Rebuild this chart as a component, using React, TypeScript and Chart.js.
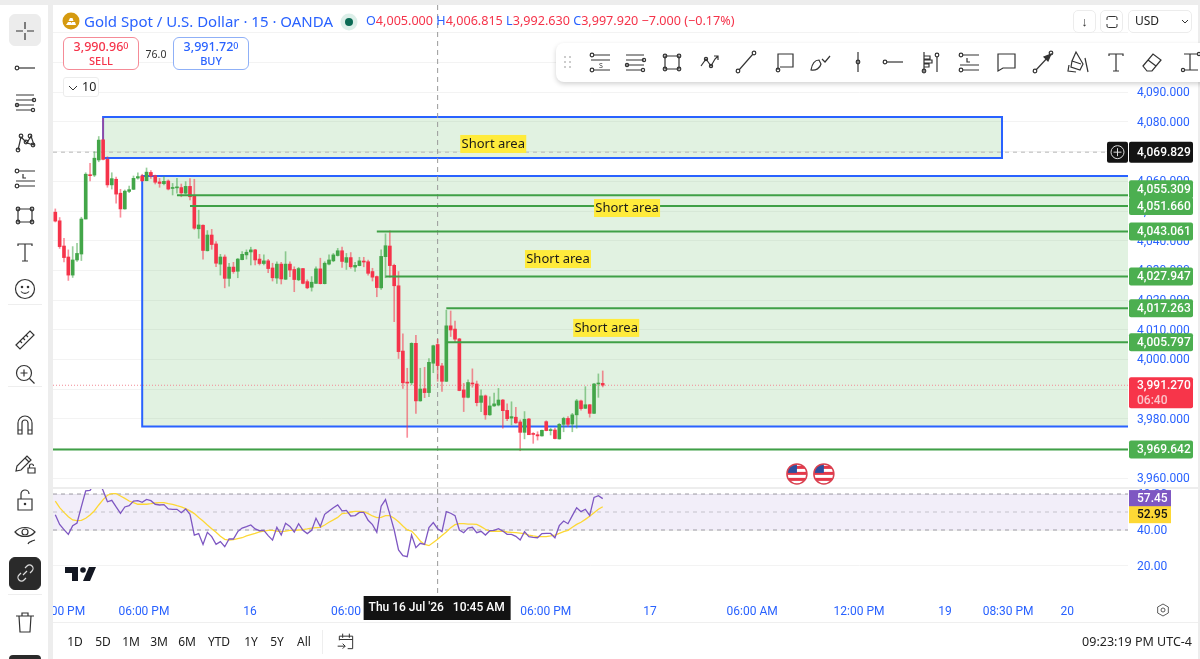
import React, { useEffect, useRef } from "react";
import { Chart, registerables } from "chart.js";

Chart.register(...registerables);

const opens = [
  4049.6,4046.7,4038.2,4034.5,4028.4,4033.5,4035.5,4047.3,4062.0,4062.1,
  4067.2,4074.0,4067.4,4058.8,4060.7,4056.0,4050.7,4056.6,4057.3,4061.1,
  4061.8,4060.2,4063.0,4061.9,4059.8,4059.2,4060.1,4057.6,4057.8,4057.9,
  4056.0,4058.3,4055.1,4044.0,4045.2,4036.6,4041.9,4038.9,4032.1,4034.5,
  4027.3,4031.1,4029.7,4033.6,4035.2,4036.2,4036.9,4033.8,4032.3,4033.2,
  4030.8,4027.4,4032.1,4027.0,4032.1,4030.3,4026.8,4030.6,4026.2,4024.3,
  4025.6,4030.5,4025.5,4032.1,4033.2,4035.0,4036.6,4032.7,4034.3,4031.1,
  4031.6,4033.0,4032.9,4029.6,4027.9,4024.1,4034.6,4038.2,4031.7,4024.8,
  4002.8,3992.3,3992.1,4005.4,3986.0,3990.1,3988.8,3998.7,4005.0,3997.8,
  3992.6,4011.3,4010.2,4006.9,3989.7,3987.2,3991.9,3991.7,3985.5,3987.7,
  3981.3,3984.3,3984.6,3986.3,3982.8,3980.2,3980.5,3978.9,3975.4,3979.9,
  3975.0,3974.6,3974.2,3979.0,3976.0,3976.2,3973.2,3978.1,3980.1,3978.2,
  3981.3,3986.0,3983.5,3984.7,3981.8,3991.7,3991.9,
];
const highs = [
  4050.7,4047.8,4040.8,4036.9,4038.0,4039.1,4047.9,4062.9,4066.1,4070.0,
  4075.1,4081.2,4068.3,4062.9,4061.4,4057.3,4057.1,4058.4,4061.8,4062.9,
  4062.4,4064.5,4063.6,4062.1,4061.0,4061.6,4060.5,4059.3,4061.0,4059.1,
  4059.9,4060.9,4060.7,4050.3,4045.3,4043.4,4043.8,4039.7,4035.4,4035.2,
  4032.4,4032.7,4034.0,4036.3,4036.9,4037.8,4037.1,4035.4,4035.2,4033.7,
  4032.4,4032.9,4032.7,4036.3,4032.9,4031.2,4031.0,4030.7,4026.8,4027.9,
  4031.2,4034.1,4032.9,4035.2,4035.7,4037.4,4037.8,4035.7,4036.0,4032.7,
  4034.4,4034.4,4033.5,4030.7,4028.1,4036.9,4042.3,4043.3,4032.1,4029.6,
  4008.6,3997.0,4005.6,4008.1,3997.0,3997.3,4000.3,4004.8,4006.8,3998.7,
  4016.6,4016.3,4012.9,4007.1,3991.9,3993.1,3996.8,3992.7,3989.7,3988.0,
  3987.4,3988.6,3990.2,3986.5,3985.0,3985.7,3983.8,3979.6,3982.4,3980.1,
  3975.3,3975.6,3976.2,3979.3,3976.8,3976.8,3978.4,3980.5,3980.7,3981.8,
  3986.5,3986.3,3990.8,3984.8,3991.9,3995.1,3996.1,
];
const lows = [
  4046.3,4037.4,4032.8,4026.6,4027.6,4033.0,4033.3,4047.3,4060.1,4061.6,
  4066.6,4067.2,4058.0,4057.4,4052.6,4047.9,4050.6,4056.2,4057.2,4060.7,
  4059.9,4060.2,4061.0,4059.1,4058.0,4058.8,4057.1,4055.4,4056.0,4054.8,
  4055.7,4053.7,4043.8,4040.8,4033.8,4036.5,4037.1,4031.2,4028.4,4024.1,
  4024.7,4029.0,4027.5,4033.5,4033.8,4031.8,4031.8,4031.8,4031.8,4029.2,
  4026.4,4025.6,4025.4,4026.9,4027.9,4022.8,4026.5,4025.4,4023.8,4023.0,
  4025.6,4025.4,4025.4,4031.8,4032.9,4034.8,4031.0,4030.3,4030.7,4029.6,
  4031.5,4031.2,4028.4,4026.4,4021.1,4023.6,4027.5,4027.7,4012.7,4000.3,
  3990.2,3973.7,3991.4,3981.8,3985.9,3987.1,3987.4,3995.5,3992.6,3989.2,
  3992.5,4007.7,4005.6,3989.4,3982.4,3987.0,3990.6,3984.3,3982.4,3979.8,
  3981.1,3984.1,3984.3,3976.8,3979.3,3977.9,3978.4,3969.2,3973.2,3974.6,
  3971.7,3972.8,3974.1,3975.9,3974.5,3973.2,3973.1,3975.6,3977.3,3975.6,
  3976.8,3982.9,3983.4,3980.5,3981.7,3987.2,3990.7,
];
const closes = [
  4046.6,4038.0,4034.3,4028.4,4033.5,4035.7,4047.3,4062.4,4061.9,4067.8,
  4073.9,4067.4,4058.8,4060.9,4055.7,4050.7,4056.7,4057.2,4061.0,4061.6,
  4060.2,4063.1,4061.8,4059.7,4059.3,4060.0,4057.4,4057.9,4058.0,4056.1,
  4058.3,4054.8,4044.2,4045.3,4036.7,4041.9,4038.7,4032.4,4034.5,4027.3,
  4031.1,4029.6,4033.8,4035.4,4036.1,4036.9,4033.5,4032.3,4033.2,4030.6,
  4027.5,4032.1,4027.1,4032.1,4030.1,4026.9,4030.6,4025.6,4024.1,4026.0,
  4030.5,4025.5,4032.4,4033.5,4035.2,4036.6,4033.0,4034.3,4031.2,4031.7,
  4033.2,4032.8,4029.0,4027.7,4024.2,4034.7,4038.3,4031.6,4024.8,4002.6,
  3992.1,3992.0,4005.4,3986.0,3990.0,3988.8,3999.0,4004.6,3997.9,3992.6,
  4011.3,4009.9,4006.8,3989.5,3987.2,3992.2,3991.7,3985.4,3987.7,3981.3,
  3984.3,3985.0,3986.3,3982.7,3980.0,3980.7,3978.6,3975.4,3979.8,3974.6,
  3974.7,3974.2,3976.1,3976.0,3976.2,3973.3,3978.1,3980.1,3978.1,3981.3,
  3986.0,3983.4,3984.7,3981.8,3991.7,3991.9,3991.3,
];
const rsiValues = [
  48.5,43.1,40.2,37.6,42.4,43.9,53.0,61.7,62.0,65.9,
  67.2,61.9,55.7,56.5,52.8,49.3,52.8,53.5,56.1,56.3,
  55.4,57.0,56.3,54.3,53.9,54.1,51.7,51.5,51.5,49.6,
  51.7,48.7,37.2,38.0,32.0,38.7,36.3,32.0,33.5,30.7,
  35.0,35.0,39.1,41.1,41.9,42.8,40.6,39.6,39.8,36.9,
  34.4,41.5,37.2,43.7,42.0,38.9,43.5,39.8,38.0,39.8,
  46.5,41.9,48.7,50.6,52.4,53.9,50.6,50.9,47.8,48.0,
  49.8,49.8,45.4,43.0,38.7,53.2,56.9,48.7,40.0,28.9,
  25.7,25.2,37.2,30.2,32.6,32.0,41.3,44.1,40.7,39.1,
  50.2,49.3,48.0,40.0,38.5,41.1,41.5,38.5,39.3,37.2,
  39.6,39.8,40.7,39.4,37.6,37.6,36.5,34.4,39.1,36.3,
  35.9,35.7,38.0,38.1,38.1,35.7,42.4,45.0,43.5,48.0,
  52.4,50.2,51.5,48.1,58.1,59.1,57.45,
];
const rsiSma = [
  56.1,52.4,49.8,47.4,45.6,45.2,45.4,46.5,48.3,50.7,
  53.9,56.9,59.3,60.2,60.2,58.9,57.6,56.1,55.2,54.3,
  54.3,54.3,54.6,55.0,55.2,55.2,54.6,54.3,53.5,52.8,
  51.9,50.6,49.1,46.9,45.0,42.8,40.7,38.7,36.5,34.8,
  34.4,34.6,35.2,35.7,36.7,37.4,38.1,38.9,39.4,39.8,
  39.8,39.4,39.1,39.4,39.8,39.8,40.0,40.2,40.6,41.1,
  41.3,41.5,42.8,44.3,45.6,47.0,49.1,49.4,50.0,50.4,
  50.4,50.2,49.1,47.8,46.9,47.0,48.0,48.0,46.5,44.6,
  42.2,40.0,39.4,36.9,33.9,32.0,31.3,33.1,34.8,36.9,
  38.9,41.3,43.0,43.5,43.5,43.3,43.3,43.1,41.9,40.4,
  39.3,39.3,39.4,39.3,38.9,38.7,38.5,38.3,38.0,37.2,
  36.7,36.3,36.3,36.3,36.7,37.2,38.1,39.1,39.8,41.5,
  43.1,44.3,45.9,47.6,49.6,51.5,52.95,
];

const priceTicks = [4110,4100,4090,4080,4070,4060,4050,4040,4030,4020,4010,4000,3990,3980,3970,3960];
const hiddenPriceLabelsAbove = 4090;
const rsiTicks = [60,40,20];
const rsiBandLevels = [60,50,40];
const timeTickPositions = [2.9,20.4,44.8,66.9,112.9,136.9,160.4,185,204.8,219.3,232.9];
const timeTickLabels = ["00 PM","06:00 PM","16","06:00","06:00 PM","17","06:00 AM","12:00 PM","19","08:30 PM","20"];

const levelPrices = [4055.309,4051.66,4043.061,4027.947,4017.263,4005.797,3969.642];
const levelStarts = [28,31,74,76,90,90,-0.53];
const levelTagShift = [-6,0,0,0,0,0,0];
const zoneTops = [4081.7,4061.8];
const zoneBottoms = [4067.9,3977.4];
const zoneStarts = [11,20];
const zoneEnds = [217.9,246.9];
const noteCenters = [100.8,131.6,115.7,126.8];
const notePrices = [4072.6,4051.0,4033.8,4010.6];
const noteText = "Short area";
const eventPositions = [170.7,176.9];
const eventPrice = 3961.4;
const drawnPrice = 4069.829;
const lastPrice = 3991.27;
const crosshairIndex = 88;

const X_MIN = -0.53;
const X_MAX = 246.9;
const FONT = '"Noto Sans", sans-serif';
const AXIS_FONT = 'Roboto, sans-serif';
const BLUE = "#2962ff";
const RED = "#f5334a";
const GREEN = "#43a649";
const TAG_GREEN = "#4caf50";

const fmt3 = (v: number) => v.toLocaleString("en-US", { minimumFractionDigits: 3, maximumFractionDigits: 3 });
const noPadding = (s: any) => { s.paddingTop = 0; s.paddingBottom = 0; s.paddingLeft = 0; s.paddingRight = 0; };

function roundedRect(ctx: any, x: number, y: number, w: number, h: number, r: number, fill: string) {
  ctx.beginPath();
  ctx.roundRect(x, y, w, h, r);
  ctx.fillStyle = fill;
  ctx.fill();
}

function tagText(ctx: any, x: number, yc: number, text: string, color = "#fff") {
  ctx.fillStyle = color;
  ctx.font = `500 12px ${AXIS_FONT}`;
  ctx.textAlign = "left";
  ctx.textBaseline = "middle";
  ctx.fillText(text, x + 8, yc + 0.5);
}

function crosshair(chart: any) {
  const { ctx, chartArea, scales } = chart;
  const x = scales.x.getPixelForValue(crosshairIndex);
  ctx.save();
  ctx.strokeStyle = "#9a9a9a";
  ctx.lineWidth = 1;
  ctx.setLineDash([5, 4]);
  ctx.beginPath();
  ctx.moveTo(x, chartArea.top);
  ctx.lineTo(x, chartArea.bottom);
  ctx.stroke();
  ctx.restore();
}

const pricePlugin = {
  id: "pricePlugin",
  beforeDatasetsDraw(chart: any) {
    const { ctx, chartArea, scales } = chart;
    const { x, y } = scales;
    ctx.save();
    zoneTops.forEach((top, i) => {
      const l = x.getPixelForValue(zoneStarts[i]);
      const r = x.getPixelForValue(zoneEnds[i]);
      const t = y.getPixelForValue(top);
      const b = y.getPixelForValue(zoneBottoms[i]);
      ctx.fillStyle = "rgba(76,175,80,0.17)";
      ctx.fillRect(l, t, r - l, b - t);
      ctx.strokeStyle = BLUE;
      ctx.lineWidth = 2;
      ctx.beginPath();
      if (i === 0) {
        ctx.rect(l, t, r - l, b - t);
      } else {
        ctx.moveTo(r, t);
        ctx.lineTo(l, t);
        ctx.lineTo(l, b);
        ctx.lineTo(r, b);
      }
      ctx.stroke();
    });
    ctx.lineWidth = 1;
    ctx.strokeStyle = "#b8b8b8";
    ctx.setLineDash([4, 4]);
    const dy = y.getPixelForValue(drawnPrice);
    ctx.beginPath();
    ctx.moveTo(chartArea.left, dy);
    ctx.lineTo(chartArea.right, dy);
    ctx.stroke();
    ctx.strokeStyle = "#f28b95";
    ctx.setLineDash([1, 2]);
    const ly = y.getPixelForValue(lastPrice);
    ctx.beginPath();
    ctx.moveTo(chartArea.left, ly);
    ctx.lineTo(chartArea.right, ly);
    ctx.stroke();
    ctx.restore();
    crosshair(chart);
  },
  afterDatasetsDraw(chart: any) {
    const { ctx, scales } = chart;
    const { x, y } = scales;
    ctx.save();
    noteCenters.forEach((c, i) => {
      const px = x.getPixelForValue(c);
      const py = y.getPixelForValue(notePrices[i]);
      ctx.fillStyle = "#ffeb3b";
      ctx.fillRect(px - 33, py - 9, 66, 18);
      ctx.fillStyle = "#1a1a1a";
      ctx.font = `13px ${FONT}`;
      ctx.textAlign = "center";
      ctx.textBaseline = "middle";
      ctx.fillText(noteText, px, py);
    });
    eventPositions.forEach((p) => {
      const cx = x.getPixelForValue(p);
      const cy = y.getPixelForValue(eventPrice);
      ctx.save();
      ctx.beginPath();
      ctx.arc(cx, cy, 10, 0, Math.PI * 2);
      ctx.fillStyle = "#fff";
      ctx.fill();
      ctx.clip();
      ctx.fillStyle = "#e5384a";
      ctx.fillRect(cx - 10, cy - 8, 20, 3);
      ctx.fillRect(cx - 10, cy - 2, 20, 3);
      ctx.fillRect(cx - 10, cy + 4, 20, 3);
      ctx.fillStyle = "#2d4f9e";
      ctx.fillRect(cx - 10, cy - 10, 10, 9);
      ctx.restore();
      ctx.beginPath();
      ctx.arc(cx, cy, 10, 0, Math.PI * 2);
      ctx.strokeStyle = "#d9404f";
      ctx.lineWidth = 1.5;
      ctx.stroke();
    });
    ctx.restore();
  },
  afterDraw(chart: any) {
    const { ctx, scales, chartArea } = chart;
    const { y } = scales;
    const left = chartArea.right + 1;
    ctx.save();
    const by = y.getPixelForValue(drawnPrice);
    roundedRect(ctx, chartArea.right - 21, by - 10.5, 21, 21, 2, "#131313");
    ctx.beginPath();
    ctx.arc(chartArea.right - 10.5, by, 6.5, 0, Math.PI * 2);
    ctx.moveTo(chartArea.right - 14.5, by);
    ctx.lineTo(chartArea.right - 6.5, by);
    ctx.moveTo(chartArea.right - 10.5, by - 4);
    ctx.lineTo(chartArea.right - 10.5, by + 4);
    ctx.strokeStyle = "#ddd";
    ctx.lineWidth = 1;
    ctx.stroke();
    roundedRect(ctx, left, by - 10.5, 64, 21, 2, "#131313");
    tagText(ctx, left, by, fmt3(drawnPrice));
    levelPrices.forEach((p, i) => {
      roundedRect(ctx, left, y.getPixelForValue(p) + levelTagShift[i] - 9, 64, 18, 2, TAG_GREEN);
    });
    levelPrices.forEach((p, i) => {
      tagText(ctx, left, y.getPixelForValue(p) + levelTagShift[i], fmt3(p));
    });
    const ly = y.getPixelForValue(lastPrice) + 8;
    roundedRect(ctx, left, ly - 16, 64, 31, 2, "#f7354a");
    tagText(ctx, left, ly - 8, fmt3(lastPrice));
    tagText(ctx, left, ly + 7, "06:40", "#fbc4ca");
    ctx.restore();
  },
};

const rsiPlugin = {
  id: "rsiPlugin",
  beforeDatasetsDraw(chart: any) {
    const { ctx, chartArea, scales } = chart;
    const { y } = scales;
    ctx.save();
    const top = y.getPixelForValue(rsiBandLevels[0]);
    const bottom = y.getPixelForValue(rsiBandLevels[2]);
    ctx.fillStyle = "rgba(126,87,194,0.1)";
    ctx.fillRect(chartArea.left, top, chartArea.right - chartArea.left, bottom - top);
    rsiBandLevels.forEach((lvl, i) => {
      const py = y.getPixelForValue(lvl);
      ctx.strokeStyle = i === 1 ? "#c6c3cc" : "#9f9da5";
      ctx.lineWidth = 1;
      ctx.setLineDash([4, 4]);
      ctx.beginPath();
      ctx.moveTo(chartArea.left, py);
      ctx.lineTo(chartArea.right, py);
      ctx.stroke();
    });
    ctx.restore();
    crosshair(chart);
  },
  afterDraw(chart: any) {
    const { ctx, chartArea, scales } = chart;
    const { y } = scales;
    ctx.save();
    const left = chartArea.right + 1;
    const tag = (v: number, bg: string, fg: string, shift: number) => {
      const py = y.getPixelForValue(v) + shift;
      ctx.fillStyle = bg;
      ctx.fillRect(left, py - 8.5, 42, 17);
      tagText(ctx, left, py, v.toFixed(2), fg);
    };
    tag(rsiValues[rsiValues.length - 1], "#7e57c2", "#fff", 0);
    tag(rsiSma[rsiSma.length - 1], "#fdd835", "#111", 8);
    const cx = scales.x.getPixelForValue(crosshairIndex);
    ctx.fillStyle = "#131313";
    ctx.fillRect(cx - 74, chartArea.bottom, 147, 24);
    ctx.fillStyle = "#fff";
    ctx.font = `500 12px ${AXIS_FONT}`;
    ctx.textAlign = "center";
    ctx.textBaseline = "middle";
    ctx.fillText("Thu 16 Jul '26   10:45 AM", cx - 1, chartArea.bottom + 12);
    ctx.restore();
  },
};

const glyph: Record<string, React.ReactNode> = {
  cross: <path d="M12 3v7M12 14v7M3 12h7M14 12h7" />,
  ray: <><circle cx="4" cy="12" r="1.8" /><path d="M6 12h16" /></>,
  fib: <><path d="M3 5h18M3 12h15M3 19h18" /><circle cx="20" cy="12" r="1.8" /></>,
  pattern: <><path d="M5 20l3-13 6 6 4-7 3 9-7-2-6-6-3 13" /><circle cx="5" cy="20" r="1.8" /><circle cx="8" cy="6" r="1.8" /><circle cx="13" cy="12" r="1.8" /><circle cx="17" cy="6" r="1.8" /><circle cx="20" cy="15" r="1.8" /></>,
  long: <><circle cx="4" cy="5" r="1.8" /><circle cx="4" cy="20" r="1.8" /><path d="M6 5h16M6 20h16M3 15h19M10 8v4h3" /></>,
  short: <><circle cx="4" cy="5" r="1.8" /><circle cx="4" cy="20" r="1.8" /><path d="M6 5h16M6 20h16M3 10h19" /><text x="13" y="18" fontSize="7" stroke="none" fill="#333" textAnchor="middle">S</text></>,
  rect: <><path d="M5 6h14v13H5z" /><circle cx="5" cy="6" r="1.8" /><circle cx="19" cy="6" r="1.8" /><circle cx="5" cy="19" r="1.8" /><circle cx="19" cy="19" r="1.8" /></>,
  text: <path d="M5 6V4h14v2M12 4v17M9 21h6" />,
  smile: <><circle cx="12" cy="12" r="9.5" /><circle cx="9" cy="10" r=".7" /><circle cx="15" cy="10" r=".7" /><path d="M8 14.5c2 2.5 6 2.5 8 0" /></>,
  ruler: <><path d="M3 17L17 3l4 4L7 21z" /><path d="M7 13l2 2M10 10l2 2M13 7l2 2" /></>,
  zoom: <><circle cx="11" cy="11" r="7.5" /><path d="M11 7.5v7M7.5 11h7M16.5 16.5l5 5" /></>,
  magnet: <path d="M5 21V10a7 7 0 0 1 14 0v11h-4V10a3 3 0 0 0-6 0v11zM5 17h4M15 17h4" />,
  pencil: <><path d="M3 20l1-5L14 5l4 4L8 19zM12 7l4 4" /><path d="M15 22v-5h7v5zM16.5 17v-2a2 2 0 0 1 4 0" /></>,
  lock: <><path d="M5 11h14v11H5zM8 11V6a4 4 0 0 1 8 0" /><circle cx="12" cy="16" r=".7" /></>,
  eye: <><path d="M2 9c5-6 15-6 20 0-5 6-15 6-20 0z" /><circle cx="12" cy="9" r="3" /><path d="M15 21c1-3 3-2 4-3l3-1" /></>,
  link: <path d="M10 14l4-4M8 12l-2 2a3.5 3.5 0 0 0 5 5l2-2M12 7l2-2a3.5 3.5 0 0 1 5 5l-2 2" />,
  trash: <path d="M3 6h18M9 6V3h6v3M6 6l1 16h10l1-16" />,
  channel: <><path d="M3 5h18M3 10h18M3 15h18M3 20h16" /><circle cx="20" cy="20" r="1.6" /><circle cx="21" cy="10" r="1.6" /><circle cx="4" cy="15" r="1.6" /></>,
  zigzag: <><path d="M3 16l5-7 5 7 4-7 3-3M16 6h4v4" /><circle cx="8" cy="9" r="1.6" /><circle cx="13" cy="16" r="1.6" /></>,
  trend: <><path d="M5 20L19 4" /><circle cx="4" cy="21" r="1.8" /><circle cx="20" cy="3" r="1.8" /></>,
  note: <><path d="M5 20V4h15v13H7" /><circle cx="5" cy="20" r="1.8" /></>,
  brush: <><path d="M3 20c5 1 9-2 10-6l-2-4c-4 0-7 4-8 10zM14 9l3 3 5-6" /></>,
  vline: <><path d="M12 2v20" /><circle cx="12" cy="12" r="1.8" /></>,
  ladder: <><path d="M6 2v20M6 6h6v3H6M6 10h8v3H6M6 14h5v3H6M19 7v15" /><circle cx="19" cy="5" r="1.8" /><circle cx="6" cy="21" r="1.8" /></>,
  bubble: <path d="M4 4h17v14H9l-5 3z" />,
  arrow: <><path d="M5 20l14-15" /><path d="M20 4l-7 3 4 4z" fill="#333" /><circle cx="4" cy="21" r="1.8" /><circle cx="20" cy="3" r="1.8" /></>,
  highlighter: <path d="M10 2l7 12-3 6-9-3 1-6zM3 15l-1 6 8 1M6 11l9 3M19 8l3 14" />,
  eraser: <path d="M3 16L13 4l8 6-9 11H7zM8 10l8 6" />,
  measure: <><path d="M6 4h14M12 4v16M6 20h14" /><circle cx="21" cy="4" r="1.6" /><circle cx="5" cy="20" r="1.6" /></>,
  calendar: <path d="M4 10V5h16v15h-6M4 9h16M8 2v5M16 2v5M2 17h9M8 14l3 3-3 3" />,
  gear: <><path d="M12 3l8 4.5v9L12 21l-8-4.5v-9z" /><circle cx="12" cy="12" r="3" /></>,
};

function Icon({ name, cx, cy, size = 24, color = "#333" }: any) {
  return (
    <svg width={size} height={size} viewBox="0 0 24 24" fill="none" stroke={color} strokeWidth={1.2}
      style={{ position: "absolute", left: cx - size / 2, top: cy - size / 2 }}>
      {glyph[name]}
    </svg>
  );
}

function Txt({ x, y, children, size = 12, color = "#131722", weight = 400, align = "left", style }: any) {
  const tr = align === "center" ? "translate(-50%,-50%)" : align === "right" ? "translate(-100%,-50%)" : "translateY(-50%)";
  return (
    <div style={{ position: "absolute", left: x, top: y, transform: tr, fontSize: size, color, fontWeight: weight, whiteSpace: "nowrap", lineHeight: 1, ...style }}>
      {children}
    </div>
  );
}

const Box = ({ x, y, w, h, border = "#ececec", r = 5, bg = "#fff", style }: any) => (
  <div style={{ position: "absolute", left: x, top: y, width: w, height: h, boxSizing: "border-box", border: `1px solid ${border}`, borderRadius: r, background: bg, ...style }} />
);

const leftIcons: [string, number][] = [
  ["ray", 68], ["channel", 102], ["pattern", 142], ["long", 178], ["rect", 215], ["text", 252], ["smile", 289],
  ["ruler", 340], ["zoom", 374], ["magnet", 425], ["pencil", 463], ["lock", 500], ["eye", 535], ["trash", 622],
];
const topIcons: [string, number][] = [
  ["short", 600], ["channel", 635], ["rect", 672], ["zigzag", 710], ["trend", 746], ["note", 785], ["brush", 820],
  ["vline", 858], ["ray", 893], ["ladder", 930], ["long", 969], ["bubble", 1006], ["arrow", 1043],
  ["highlighter", 1078], ["text", 1116], ["eraser", 1152], ["measure", 1190],
];
const rangeButtons: [string, number][] = [
  ["1D", 75], ["5D", 103], ["1M", 131], ["3M", 159], ["6M", 187], ["YTD", 219], ["1Y", 251], ["5Y", 277], ["All", 304],
];

export default function App() {
  const priceRef = useRef<HTMLCanvasElement>(null);
  const rsiRef = useRef<HTMLCanvasElement>(null);

  useEffect(() => {
    const idx = opens.map((_, i) => i);
    const up = idx.map((i) => closes[i] >= opens[i]);
    const priceChart = new Chart(priceRef.current!, {
      type: "bar",
      data: {
        datasets: [
          ...levelPrices.map((p, i) => ({
            type: "line" as const,
            data: [{ x: levelStarts[i], y: p }, { x: X_MAX, y: p }],
            borderColor: "#3fa046",
            borderWidth: 2,
            pointRadius: 0,
            order: 0,
          })),
          {
            data: idx.map((i) => ({ x: i, y: [opens[i], closes[i]] })),
            backgroundColor: up.map((u) => (u ? GREEN : RED)),
            barThickness: 3,
            minBarLength: 1,
            grouped: false,
            order: 1,
          },
          {
            data: idx.map((i) => ({ x: i, y: [lows[i], highs[i]] })),
            backgroundColor: up.map((u) => (u ? "rgba(67,166,73,0.55)" : "rgba(245,51,74,0.55)")),
            barThickness: 1,
            grouped: false,
            order: 2,
          },
        ] as any,
      },
      plugins: [pricePlugin],
      options: {
        animation: false,
        responsive: false,
        layout: { padding: 0, autoPadding: false },
        plugins: { legend: { display: false }, tooltip: { enabled: false } },
        scales: {
          x: { type: "linear", min: X_MIN, max: X_MAX, offset: false, display: false, grid: { offset: false } },
          y: {
            position: "right",
            offset: false,
            min: 3956.98,
            max: 4119.43,
            afterBuildTicks: (s: any) => { s.ticks = priceTicks.map((value) => ({ value })); },
            afterFit: (s: any) => { s.width = 70; noPadding(s); },
            grid: { color: "#f3f3f3", drawTicks: false },
            border: { display: false },
            ticks: {
              color: BLUE,
              padding: 9,
              labelOffset: 1,
              font: { family: AXIS_FONT, size: 12 },
              callback: (v: any) => (v > hiddenPriceLabelsAbove ? "" : fmt3(v)),
            },
          },
        },
      } as any,
    });

    const rsiChart = new Chart(rsiRef.current!, {
      type: "line",
      data: {
        datasets: [
          {
            data: idx.map((i) => ({ x: i, y: rsiSma[i] })),
            borderColor: "#fdd835",
            borderWidth: 1.3,
            pointRadius: 0,
            order: 1,
          },
          {
            data: idx.map((i) => ({ x: i, y: rsiValues[i] })),
            borderColor: "#7e57c2",
            borderWidth: 1.3,
            pointRadius: 0,
            order: 0,
          },
        ],
      },
      plugins: [rsiPlugin],
      options: {
        animation: false,
        responsive: false,
        layout: { padding: 0, autoPadding: false },
        plugins: { legend: { display: false }, tooltip: { enabled: false } },
        scales: {
          x: {
            type: "linear",
            offset: false,
            min: X_MIN,
            max: X_MAX,
            afterBuildTicks: (s: any) => { s.ticks = timeTickPositions.map((value) => ({ value })); },
            afterFit: (s: any) => { s.height = 26; noPadding(s); },
            grid: { display: false },
            border: { display: false },
            ticks: {
              color: BLUE,
              autoSkip: false,
              maxRotation: 0,
              padding: 1,
              font: { family: AXIS_FONT, size: 12 },
              callback: (v: any) => {
                const k = timeTickPositions.indexOf(v);
                return k >= 0 ? timeTickLabels[k] : "";
              },
            },
          },
          y: {
            position: "right",
            offset: false,
            min: 3.33,
            max: 62.78,
            afterBuildTicks: (s: any) => { s.ticks = rsiTicks.map((value) => ({ value })); },
            afterFit: (s: any) => { s.width = 70; noPadding(s); },
            grid: { color: "#f3f3f3", drawTicks: false },
            border: { display: false },
            ticks: {
              color: BLUE,
              padding: 9,
              labelOffset: 1,
              font: { family: AXIS_FONT, size: 12 },
              callback: (v: any) => Number(v).toFixed(2),
            },
          },
        },
      } as any,
    });

    return () => {
      priceChart.destroy();
      rsiChart.destroy();
    };
  }, []);

  return (
    <div style={{ position: "fixed", left: 0, top: 0, width: 1200, height: 659, overflow: "hidden", background: "#ededed", fontFamily: FONT }}>
      {/* left tool strip */}
      <div style={{ position: "absolute", left: 0, top: 5, width: 48, height: 654, background: "#fff" }} />
      <Box x={9} y={14} w={32} h={32} border="#ececec" bg="#ececec" r={6} />
      <Icon name="cross" cx={25} cy={31} />
      {leftIcons.map(([n, y]) => <Icon key={n + y} name={n} cx={25} cy={y} />)}
      <Box x={9} y={557} w={32} h={33} border="#2a2a2a" bg="#2a2a2a" r={6} />
      <Icon name="link" cx={25} cy={573} color="#ddd" />
      {[304, 386, 594].map((y) => <div key={y} style={{ position: "absolute", left: 8, top: y, width: 34, height: 1, background: "#eee" }} />)}
      <div style={{ position: "absolute", left: 9, top: 655, width: 32, height: 4, background: "#2a2a2a", borderRadius: "4px 4px 0 0" }} />

      {/* panes */}
      <div style={{ position: "absolute", left: 53, top: 5, width: 1145, height: 654, background: "#fff" }} />
      <canvas ref={priceRef} width={1145} height={482} style={{ position: "absolute", left: 53, top: 5, display: "block" }} />
      <div style={{ position: "absolute", left: 53, top: 487, width: 1145, height: 2, background: "#ededed" }} />
      <canvas ref={rsiRef} width={1145} height={133} style={{ position: "absolute", left: 53, top: 489, display: "block" }} />
      <div style={{ position: "absolute", left: 53, top: 622, width: 1145, height: 1, background: "#efefef" }} />

      {/* TradingView mark and gear */}
      <svg width="32" height="16" viewBox="0 0 32 16" style={{ position: "absolute", left: 65, top: 566 }}>
        <path d="M0 1h13v14H7V7H0zM24 1h7l-6 14h-7z" fill="#131722" />
        <circle cx="18" cy="4" r="2.8" fill="#131722" />
      </svg>
      <Icon name="gear" cx={1163} cy={610} size={16} />

      {/* header */}
      <svg width="18" height="18" style={{ position: "absolute", left: 62, top: 12 }}>
        <circle cx="9" cy="9" r="8.5" fill="#d59a10" />
        <path d="M4 13l2-3h3l1 3zM9 13l1-3h3l1 3zM6.5 9l1.5-3h2.5l1 3z" fill="#fff" />
      </svg>
      <Txt x={84} y={21} size={15} color={BLUE}>Gold Spot / U.S. Dollar · 15 · OANDA</Txt>
      <svg width="18" height="18" style={{ position: "absolute", left: 340, top: 13 }}>
        <circle cx="9" cy="9" r="8.5" fill="#dcefe9" />
        <circle cx="9" cy="9" r="4" fill="#0b6b55" />
      </svg>
      <Txt x={366} y={21} size={12.6} color={RED}>
        <span style={{ color: BLUE }}>O</span>4,005.000 <span style={{ color: BLUE }}>H</span>4,006.815 <span style={{ color: BLUE }}>L</span>3,992.630 <span style={{ color: BLUE }}>C</span>3,997.920 −7.000 (−0.17%)
      </Txt>
      <Box x={1073} y={10} w={23} h={23} />
      <Txt x={1084.5} y={21} size={13} color="#333" align="center">↓</Txt>
      <Box x={1100} y={10} w={23} h={23} />
      <svg width="14" height="14" viewBox="0 0 14 14" fill="none" stroke="#333" style={{ position: "absolute", left: 1105, top: 15 }}>
        <path d="M2 5V3a1.5 1.5 0 0 1 1.5-1.5h7A1.5 1.5 0 0 1 12 3v2M2 9v2a1.5 1.5 0 0 0 1.5 1.5h7A1.5 1.5 0 0 0 12 11V9" />
      </svg>
      <Box x={1128} y={10} w={64} h={23} />
      <Txt x={1135} y={21} size={12} color="#222">USD</Txt>
      <svg width="8" height="5" fill="none" stroke="#333" style={{ position: "absolute", left: 1181, top: 19 }}><path d="M1 1l3 3 3-3" /></svg>

      <Box x={63} y={37} w={76} h={33} border="#f58b97" r={6} />
      <Txt x={101} y={47} size={12.5} weight={500} color={RED} align="center">3,990.96<span style={{ fontSize: 9, verticalAlign: 2 }}>0</span></Txt>
      <Txt x={101} y={60} size={11} weight={500} color={RED} align="center">SELL</Txt>
      <Txt x={156} y={54} size={10.5} color="#333" align="center">76.0</Txt>
      <Box x={173} y={37} w={76} h={33} border="#8fb0f7" r={6} />
      <Txt x={211} y={47} size={12.5} weight={500} color={BLUE} align="center">3,991.72<span style={{ fontSize: 9, verticalAlign: 2 }}>0</span></Txt>
      <Txt x={211} y={60} size={11} weight={500} color={BLUE} align="center">BUY</Txt>
      <Box x={63} y={77} w={36} h={20} r={3} />
      <svg width="10" height="6" fill="none" stroke="#333" style={{ position: "absolute", left: 68, top: 85 }}><path d="M1 1l4 4 4-4" /></svg>
      <Txt x={82} y={87} size={12.5} color="#222">10</Txt>

      {/* drawing tool strip */}
      <div style={{ position: "absolute", left: 556, top: 43, width: 660, height: 39, background: "#fff", borderRadius: 8, boxShadow: "0 2px 5px rgba(0,0,0,.18)" }} />
      <svg width="10" height="14" style={{ position: "absolute", left: 563, top: 55 }}>
        {[0, 1, 2].map((r) => [0, 1].map((c) => <circle key={`${r}${c}`} cx={2 + c * 5} cy={2 + r * 5} r="1" fill="#bbb" />))}
      </svg>
      {topIcons.map(([n, x]) => <Icon key={n + x} name={n} cx={x} cy={62} />)}

      {/* bottom bar */}
      {rangeButtons.map(([t, x]) => <Txt key={t} x={x} y={642} size={12} color="#222" align="center">{t}</Txt>)}
      <div style={{ position: "absolute", left: 322, top: 630, width: 1, height: 24, background: "#eee" }} />
      <Icon name="calendar" cx={346} cy={642} size={20} />
      <Txt x={1192} y={642} size={12.5} color="#222" align="right">09:23:19 PM UTC-4</Txt>
    </div>
  );
}
